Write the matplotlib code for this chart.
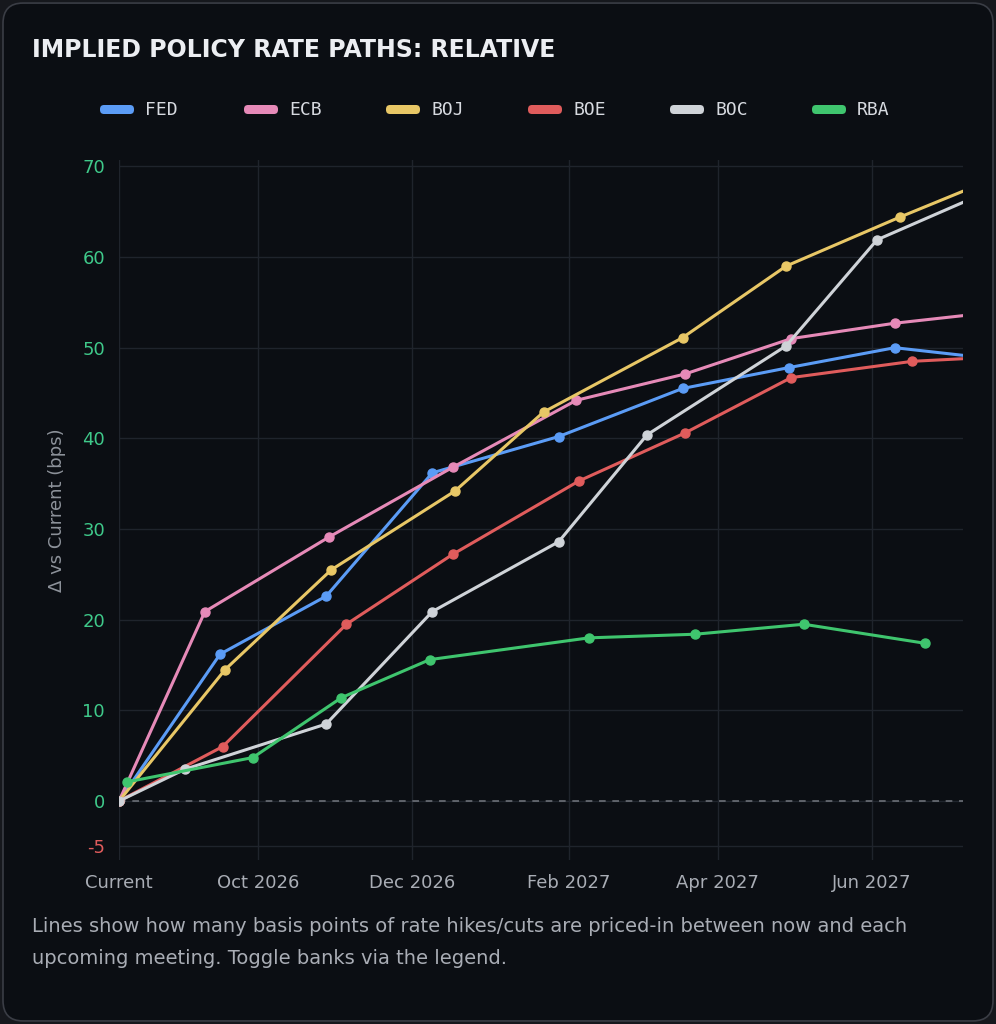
import matplotlib
matplotlib.use("Agg")
import matplotlib.pyplot as plt
from matplotlib.patches import FancyBboxPatch
import numpy as np

dates_fed = ["2026-08-07","2026-09-16","2026-10-28","2026-12-09","2027-01-28","2027-03-18","2027-04-29","2027-06-10","2027-07-28"]
fed = [0,16.2,22.6,36.2,40.2,45.5,47.8,50.0,48.5]
dates_ecb = ["2026-08-07","2026-09-10","2026-10-29","2026-12-17","2027-02-04","2027-03-19","2027-04-30","2027-06-10","2027-07-22"]
ecb = [0,20.9,29.1,36.8,44.2,47.1,51.0,52.7,54.0]
dates_boj = ["2026-08-07","2026-09-18","2026-10-30","2026-12-18","2027-01-22","2027-03-18","2027-04-28","2027-06-12","2027-07-31"]
boj = [0,14.5,25.5,34.2,42.9,51.1,59.0,64.4,70.0]
dates_boe = ["2026-08-07","2026-09-17","2026-11-05","2026-12-17","2027-02-05","2027-03-19","2027-04-30","2027-06-17","2027-08-05"]
boe = [0,6.0,19.5,27.2,35.3,40.6,46.7,48.5,49.2]
dates_boc = ["2026-08-07","2026-09-02","2026-10-28","2026-12-09","2027-01-28","2027-03-04","2027-04-28","2027-06-03","2027-07-15"]
boc = [0,3.5,8.5,20.9,28.6,40.4,50.2,61.9,67.0]
dates_rba = ["2026-08-10","2026-09-29","2026-11-03","2026-12-08","2027-02-09","2027-03-23","2027-05-05","2027-06-22"]
rba = [2.1,4.8,11.4,15.6,18.0,18.4,19.5,17.4]

series = [("FED",dates_fed,fed,"#5b9cf6"),("ECB",dates_ecb,ecb,"#e68ab8"),
          ("BOJ",dates_boj,boj,"#e8c766"),("BOE",dates_boe,boe,"#e05c5c"),
          ("BOC",dates_boc,boc,"#cfd3d8"),("RBA",dates_rba,rba,"#3fc56e")]
xticks = ["2026-08-07","2026-10-01","2026-12-01","2027-02-01","2027-04-01","2027-06-01"]
xticklabels = ["Current","Oct 2026","Dec 2026","Feb 2027","Apr 2027","Jun 2027"]
yticks = [-5,0,10,20,30,40,50,60,70]

BG = "#0b0e13"
fig = plt.figure(figsize=(9.96,10.24), dpi=100, facecolor="#16181d")
bgp = FancyBboxPatch((0.003,0.003),0.994,0.994,boxstyle="round,pad=0,rounding_size=0.02",
    transform=fig.transFigure, facecolor=BG, edgecolor="#3a3d45", lw=1.2, zorder=-5)
fig.patches.append(bgp)
W,H = 996,1024
ax = fig.add_axes([119/W, 1-860/H, (963-119)/W, (860-160)/H])
ax.set_zorder(5)
ax.set_facecolor(BG)
for name,d,v,c in series:
    ax.plot(np.array(d,dtype="datetime64[D]"), v, color=c, lw=2.2, marker="o", ms=6.5, clip_on=True, zorder=3)
ax.axhline(0, color="#6b6f77", lw=1.2, ls=(0,(4,4)), zorder=2)
ax.set_xlim(np.datetime64("2026-08-07"), np.datetime64("2027-07-07"))
ax.set_ylim(-6.5, 70.7)
ax.set_xticks(np.array(xticks,dtype="datetime64[D]"))
ax.set_xticklabels(xticklabels, color="#a9adb5", fontsize=13)
ax.set_yticks(yticks)
ax.set_yticklabels([str(t) for t in yticks], fontsize=13)
for lab,t in zip(ax.get_yticklabels(), yticks):
    lab.set_color("#e05c5c" if t<0 else "#3fc98a")
ax.grid(True, color="#1f242c", lw=1)
ax.tick_params(length=0, pad=10)
for s in ax.spines.values(): s.set_visible(False)
ax.set_ylabel("Δ vs Current (bps)", color="#8d929a", fontsize=13, labelpad=12)

fig.text(32/W, 1-50/H, "IMPLIED POLICY RATE PATHS: RELATIVE", color="#eceef2", fontsize=17,
         fontweight="bold", va="center", family="DejaVu Sans")
lx = [100,244,386,528,670,812]
for (name,d,v,c),x in zip(series,lx):
    fig.patches.append(FancyBboxPatch((x/W,1-114/H),34/W,9/H,boxstyle="round,pad=0,rounding_size=0.004",
        transform=fig.transFigure, facecolor=c, edgecolor="none", zorder=2))
    fig.text((x+45)/W, 1-110/H, name, color="#d7dae0", fontsize=13, va="center", family="DejaVu Sans Mono")
fig.text(32/W, 1-926/H, "Lines show how many basis points of rate hikes/cuts are priced-in between now and each",
         color="#a9adb5", fontsize=14, va="center")
fig.text(32/W, 1-958/H, "upcoming meeting. Toggle banks via the legend.", color="#a9adb5", fontsize=14, va="center")
fig.savefig("out.png", dpi=100, facecolor=fig.get_facecolor())
